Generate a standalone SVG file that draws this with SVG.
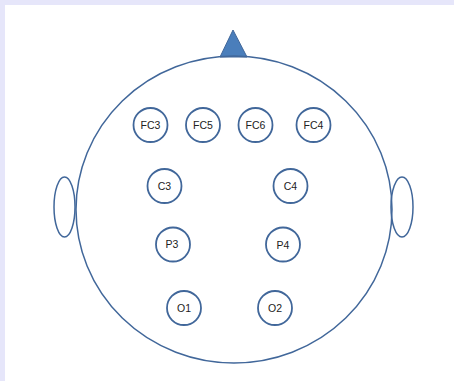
<svg xmlns="http://www.w3.org/2000/svg" width="454" height="381" viewBox="0 0 454 381">
<style>
.ln{fill:none;stroke:#41679a;stroke-width:1.5}
.el{fill:#fff;stroke:#41679a;stroke-width:1.8}
.t{font-family:"Liberation Sans",Arial,sans-serif;font-size:10.5px;fill:#222;text-anchor:middle;dominant-baseline:central}
</style>
<rect x="0" y="0" width="454" height="381" fill="#e6e6fa"/>
<rect x="5" y="5" width="449" height="376" fill="#fff"/>
<g id="head">
<polygon points="233,30 220,57 247,57" fill="#4a7ebb" stroke="#41679a" stroke-width="1"/>
<ellipse class="ln" cx="234" cy="209.5" rx="158" ry="153.5"/>
</g>
<g id="ear-left"><ellipse class="ln" cx="64.5" cy="207" rx="10.5" ry="30"/></g>
<g id="ear-right"><ellipse class="ln" cx="402" cy="207" rx="11" ry="30"/></g>
<g id="FC3"><circle class="el" cx="150.5" cy="125" r="17"/><text class="t" x="150.5" y="125">FC3</text></g>
<g id="FC5"><circle class="el" cx="203" cy="125" r="17"/><text class="t" x="203" y="125">FC5</text></g>
<g id="FC6"><circle class="el" cx="255.5" cy="125" r="17"/><text class="t" x="255.5" y="125">FC6</text></g>
<g id="FC4"><circle class="el" cx="313.5" cy="125" r="17"/><text class="t" x="313.5" y="125">FC4</text></g>
<g id="C3"><circle class="el" cx="164.5" cy="186" r="17"/><text class="t" x="164.5" y="186">C3</text></g>
<g id="C4"><circle class="el" cx="290.5" cy="186" r="17"/><text class="t" x="290.5" y="186">C4</text></g>
<g id="P3"><circle class="el" cx="173" cy="244.5" r="17"/><text class="t" x="172" y="244">P3</text></g>
<g id="P4"><circle class="el" cx="283" cy="244.5" r="17"/><text class="t" x="283" y="245">P4</text></g>
<g id="O1"><circle class="el" cx="184" cy="308" r="17"/><text class="t" x="184" y="308">O1</text></g>
<g id="O2"><circle class="el" cx="275" cy="308" r="17"/><text class="t" x="275" y="308">O2</text></g>
<g id="connectors"/>
</svg>
